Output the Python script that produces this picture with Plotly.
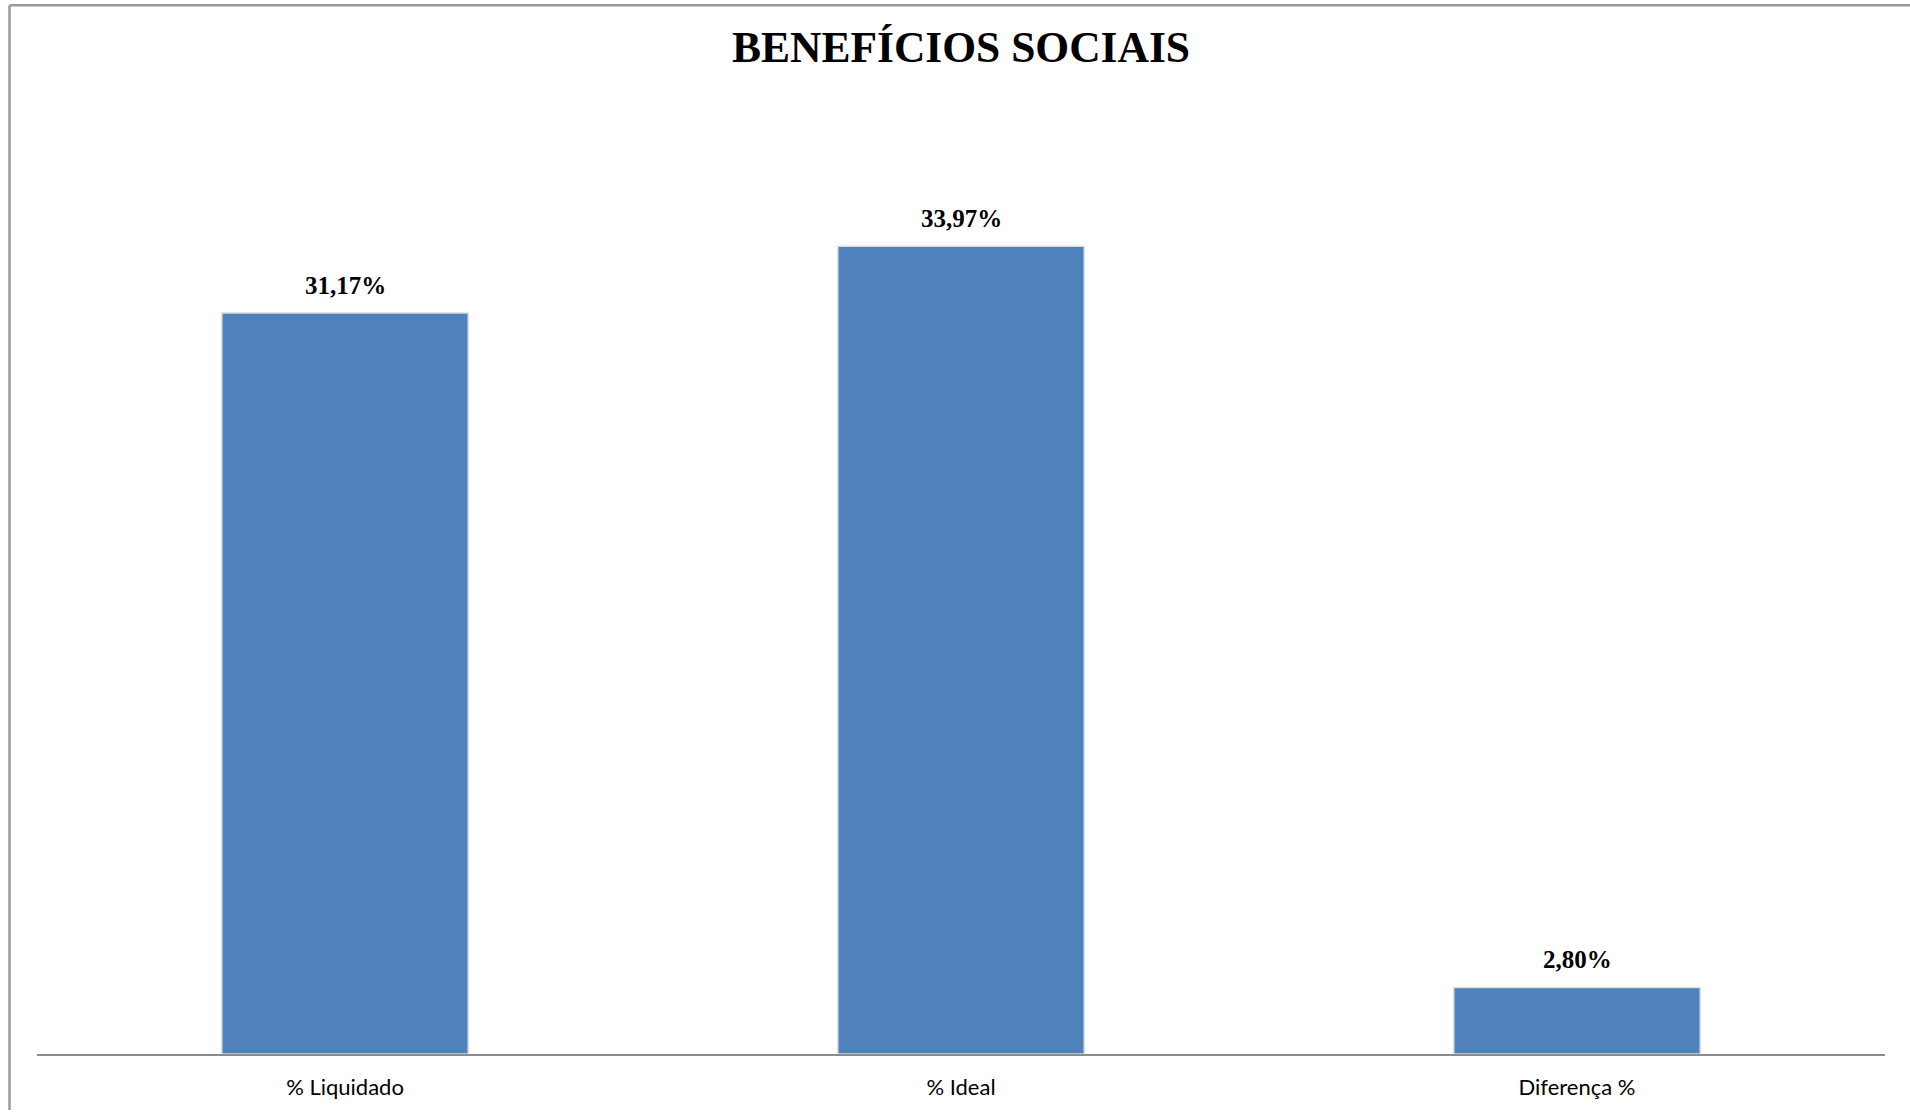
import plotly.graph_objects as go

categories = ["% Liquidado", "% Ideal", "Diferença %"]
values = [31.17, 33.97, 2.80]
labels = ["31,17%", "33,97%", "2,80%"]
title_text = "BENEFÍCIOS SOCIAIS"

W, H = 1910, 1112
L, R, T, B = 37, 25, 103, 56

fig = go.Figure()
fig.add_trace(go.Bar(
    x=categories, y=values,
    marker=dict(color="#4F81BD", line=dict(color="#d9dee5", width=1.5)),
    hoverinfo="skip",
))

for c, v, t in zip(categories, values, labels):
    fig.add_annotation(x=c, y=v, text="<b>" + t + "</b>", showarrow=False,
                       xanchor="center", yanchor="bottom", yshift=12,
                       font=dict(family="Liberation Serif", size=25, color="#000000"))

pw = W - L - R
ph = H - T - B
def px_x(p):
    return (p - L) / pw
def px_y(p):
    return (H - B - p) / ph

# outer chart border (left and top visible)
fig.add_shape(type="line", xref="paper", yref="paper",
              x0=px_x(9.5), x1=px_x(9.5), y0=px_y(5), y1=px_y(H),
              line=dict(color="#9a9a9a", width=2.5))
fig.add_shape(type="line", xref="paper", yref="paper",
              x0=px_x(9.5), x1=px_x(W), y0=px_y(5), y1=px_y(5),
              line=dict(color="#9a9a9a", width=2.5))

fig.update_layout(
    width=W, height=H,
    margin=dict(l=L, r=R, t=T, b=B),
    paper_bgcolor="white", plot_bgcolor="white",
    showlegend=False,
    bargap=0.6,
    title=dict(text="<b>" + title_text + "</b>", x=0.5, xref="paper", xanchor="center",
               y=1 - 47 / H, yanchor="middle",
               font=dict(family="Liberation Serif", size=43.5, color="#000000")),
    xaxis=dict(showline=True, linecolor="#8c8c8c", linewidth=2,
               ticks="", showgrid=False, zeroline=False,
               tickfont=dict(family="Lato", size=22, color="#000000"),
               ticklabelstandoff=13),
    yaxis=dict(range=[0, 40], visible=False, showgrid=False, zeroline=False),
)

fig.write_html("out.html", config={"displayModeBar": False},
               post_script="document.body.style.margin='0';document.body.style.overflow='hidden';")
